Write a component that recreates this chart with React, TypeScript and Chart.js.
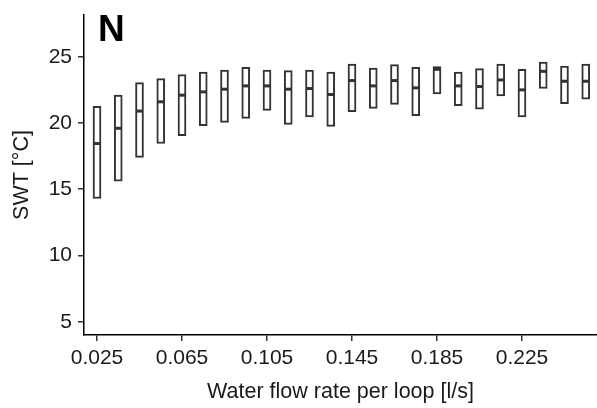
import React, { useEffect, useRef } from "react";
import { Chart, registerables } from "chart.js";

Chart.register(...registerables);

const FLOW = [
  0.025, 0.035, 0.045, 0.055, 0.065, 0.075, 0.085, 0.095, 0.105, 0.115, 0.125, 0.135,
  0.145, 0.155, 0.165, 0.175, 0.185, 0.195, 0.205, 0.215, 0.225, 0.235, 0.245, 0.255,
];
const SWT_MIN = [
  14.3, 15.6, 17.4, 18.45, 19.05, 19.8, 20.05, 20.35, 20.95, 19.9, 20.45, 19.75,
  20.85, 21.1, 21.4, 20.55, 22.2, 21.3, 21.05, 22.05, 20.45, 22.6, 21.45, 21.8,
];
const SWT_MAX = [
  21.25, 22.1, 23.05, 23.35, 23.65, 23.85, 24.0, 24.2, 24.0, 23.95, 24.0, 23.85,
  24.45, 24.15, 24.4, 24.2, 24.25, 23.85, 24.1, 24.45, 24.05, 24.6, 24.3, 24.45,
];
const SWT_MEDIAN = [
  18.45, 19.6, 20.9, 21.6, 22.1, 22.35, 22.55, 22.8, 22.8, 22.55, 22.6, 22.15,
  23.2, 22.8, 23.2, 22.65, 24.05, 22.8, 22.75, 23.25, 22.5, 23.9, 23.15, 23.15,
];
const X_TICKS = [0.025, 0.065, 0.105, 0.145, 0.185, 0.225];
const Y_TICKS = [5, 10, 15, 20, 25];
const PANEL_LABEL = "N";
const X_TITLE = "Water flow rate per loop [l/s]";
const Y_TITLE = "SWT [°C]";

const FONT = "'Liberation Sans', Arial, sans-serif";

export default function App() {
  const ref = useRef<HTMLCanvasElement | null>(null);

  useEffect(() => {
    if (!ref.current) return;
    const panelLabel = {
      id: "panelLabel",
      afterDraw(chart: any) {
        const ctx = chart.ctx;
        ctx.save();
        ctx.font = `bold 37px ${FONT}`;
        ctx.fillStyle = "#000";
        ctx.textBaseline = "alphabetic";
        ctx.textAlign = "left";
        ctx.fillText(PANEL_LABEL, chart.chartArea.left + 14, 41);
        ctx.restore();
      },
    };
    const chart = new Chart(ref.current, {
      type: "bar",
      data: {
        datasets: [
          {
            type: "bar",
            data: FLOW.map((x, i) => ({ x, y: [SWT_MIN[i], SWT_MAX[i]] })) as any,
            backgroundColor: "#ffffff",
            borderColor: "#333333",
            borderWidth: 2,
            borderSkipped: false,
            barThickness: 8,
            order: 2,
          },
          {
            type: "scatter",
            data: FLOW.map((x, i) => ({ x, y: SWT_MEDIAN[i] })),
            pointStyle: "line",
            radius: 3.5,
            borderColor: "#333333",
            borderWidth: 3,
            order: 1,
          } as any,
        ],
      },
      options: {
        animation: false,
        responsive: true,
        maintainAspectRatio: false,
        layout: { autoPadding: false, padding: { top: 15, right: 0, left: 0, bottom: 0 } },
        plugins: {
          legend: { display: false },
          tooltip: { enabled: false },
        },
        scales: {
          x: {
            type: "linear",
            offset: false,
            min: 0.01888,
            max: 0.2603,
            afterBuildTicks: (s: any) => {
              s.ticks = X_TICKS.map((v) => ({ value: v }));
            },
            afterFit: (s: any) => {
              s.height = 73;
              s.paddingLeft = 0;
              s.paddingRight = 0;
            },
            grid: {
              display: true,
              offset: false,
              drawOnChartArea: false,
              drawTicks: true,
              tickLength: 6,
              color: "#333333",
              lineWidth: 1.5,
            },
            border: { display: true, color: "#000", width: 1.5 },
            ticks: {
              autoSkip: false,
              maxRotation: 0,
              padding: 5,
              color: "#1a1a1a",
              font: { family: FONT, size: 21 },
              callback: (v: any) => Number(v).toFixed(3),
            },
            title: {
              display: true,
              text: X_TITLE,
              color: "#1a1a1a",
              font: { family: FONT, size: 21.5 },
              padding: { top: 0, bottom: 3 },
            },
          },
          y: {
            type: "linear",
            min: 4.0,
            max: 28.15,
            afterBuildTicks: (s: any) => {
              s.ticks = Y_TICKS.map((v) => ({ value: v }));
            },
            afterFit: (s: any) => {
              s.width = 84;
              s.paddingTop = 0;
              s.paddingBottom = 0;
            },
            grid: {
              display: true,
              drawOnChartArea: false,
              drawTicks: true,
              tickLength: 6,
              color: "#333333",
              lineWidth: 1.5,
            },
            border: { display: true, color: "#000", width: 1.5 },
            ticks: {
              autoSkip: false,
              padding: 6,
              color: "#1a1a1a",
              font: { family: FONT, size: 21 },
            },
            title: {
              display: true,
              text: Y_TITLE,
              color: "#1a1a1a",
              font: { family: FONT, size: 21.5 },
              padding: { top: 9, bottom: 0 },
            },
          },
        },
      },
      plugins: [panelLabel],
    });
    return () => chart.destroy();
  }, []);

  return (
    <div style={{ position: "fixed", left: 0, top: 0, width: 597, height: 408, background: "#fff" }}>
      <canvas ref={ref} />
    </div>
  );
}
